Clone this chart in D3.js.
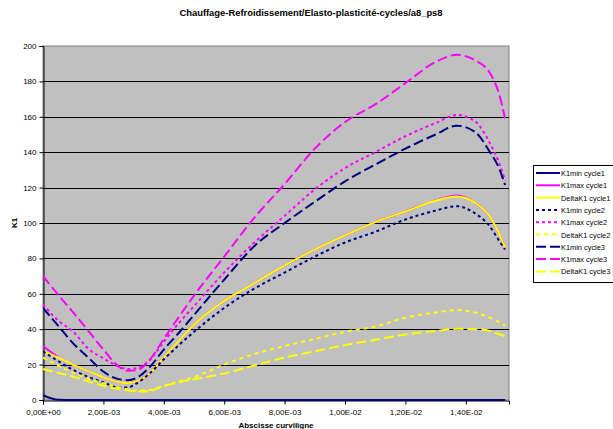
<!DOCTYPE html>
<html><head><meta charset="utf-8">
<script src="https://cdn.jsdelivr.net/npm/d3@7"></script>
<style>body{margin:0;background:#fff}svg{display:block;font-family:Arial,"Liberation Sans",sans-serif}</style>
</head><body><svg id="c" width="613" height="429"></svg>
<script>
const titleText = "Chauffage-Refroidissement/Elasto-plasticité-cycles/a8_ps8";
const xLabel = "Abscisse curviligne";
const yLabel = "K1";
const xTickValues = [0, 0.002, 0.004, 0.006, 0.008, 0.010, 0.012, 0.014];
const xTickLabels = ["0,00E+00","2,00E-03","4,00E-03","6,00E-03","8,00E-03","1,00E-02","1,20E-02","1,40E-02"];
const yTickValues = [0,20,40,60,80,100,120,140,160,180,200];

const xValues = [0,0.0005,0.001,0.0015,0.002,0.0025,0.0028,0.0031,0.0035,0.004,0.0045,0.005,0.006,0.007,0.008,0.009,0.010,0.011,0.012,0.013,0.0137,0.0143,0.0148,0.0151,0.0153];

const k1minCycle1 = [2.8,0.2,0,0,0,0,0,0,0,0,0,0,0,0,0,0,0,0,0,0,0,0,0,0,0];
const k1maxCycle1 = [30.5,24.3,19.8,16.3,12.8,10.2,9.5,10.5,14.5,24,33.5,42.5,56,66,76,85,93,100.5,106.5,112.8,115.6,111.6,103.7,94,86];
const deltaK1Cycle1 = [27.5,24,19.8,16.3,12.8,10.2,9.5,10.5,14.5,24,33.5,42.5,56,66,76,85,93,100.5,106.5,112.6,115,111.5,103.6,94,86];
const k1minCycle2 = [27.5,22,17,13,10,7,7,9.4,14.5,23,31,38.5,52,63,72,81,89,95,102,107,109.5,105.5,98,90,85];
const k1maxCycle2 = [54,45,38.6,29,23.5,19,17.5,18,22,33,43.5,53,72,89,104,119,131,140,149,156.5,161,157.5,145,134,124];
const deltaK1Cycle2 = [24,19.5,15.5,12,9.5,7.2,6,5.4,5.6,8,10.5,13,20,26,30.5,34.5,38.5,41.5,46.5,49.5,50.8,49.5,46.5,44,42];
const k1minCycle3 = [52,42,32,24,16,11.8,11.2,12.5,18,28.5,38,48,68,87,100,112,123.5,133,142,150,155,151.5,140,131,121.5];
const k1maxCycle3 = [70,59.5,49.5,39,28.5,19,16.5,16.8,22,34.5,47,59,81,103,122,142,157,167,179,191,195,192,184.6,173,159];
const deltaK1Cycle3 = [17.5,15.3,13.2,10.5,8,6.3,5.5,4.8,5,8,10,11.7,15,19.5,24,27.5,31,34,37,39,40.2,40,39,37.2,36];

const seriesNames = ["K1min cycle1","K1max cycle1","DeltaK1 cycle1","K1min cycle2","K1max cycle2","DeltaK1 cycle2","K1min cycle3","K1max cycle3","DeltaK1 cycle3"];
const seriesValues = [k1minCycle1,k1maxCycle1,deltaK1Cycle1,k1minCycle2,k1maxCycle2,deltaK1Cycle2,k1minCycle3,k1maxCycle3,deltaK1Cycle3];
const seriesColors = ["#000080","#FF00FF","#FFFF00","#000080","#FF00FF","#FFFF00","#000080","#FF00FF","#FFFF00"];
const seriesDash = [null,null,null,"3,3","3,3","4,4","10,4","10,4","10,4"];

const svg = d3.select("#c");
const L=43,R=509,T=46,B=400;
const x = d3.scaleLinear().domain([0,0.01543]).range([L,R]);
const y = d3.scaleLinear().domain([0,200]).range([B,T]);

svg.append("rect").attr("x",L).attr("y",T).attr("width",R-L).attr("height",B-T)
  .attr("fill","#C0C0C0").attr("stroke","#808080").attr("stroke-width",1);

// gridlines
svg.append("g").selectAll("line").data(yTickValues.filter(v=>v>0&&v<200)).join("line")
  .attr("x1",L).attr("x2",R).attr("y1",d=>Math.round(y(d))+0.5).attr("y2",d=>Math.round(y(d))+0.5)
  .attr("stroke","#000").attr("stroke-width",1);

// axes
const yAxis = d3.axisLeft(y).tickValues(yTickValues).tickSize(4).tickPadding(3);
const gy = svg.append("g").attr("transform",`translate(${L+0.5},0)`).call(yAxis);
const xAxis = d3.axisBottom(x).tickValues(xTickValues).tickFormat((d,i)=>xTickLabels[i]).tickSize(4).tickPadding(5);
const gx = svg.append("g").attr("transform",`translate(0,${B+0.5})`).call(xAxis);
[gx,gy].forEach(g=>{
  g.select(".domain").attr("stroke","#000");
  g.selectAll(".tick line").attr("stroke","#000");
  g.selectAll("text").attr("font-size","8px").attr("fill","#000").attr("font-family","Arial, Liberation Sans, sans-serif");
});

// lines
const line = d3.line().x((d,i)=>x(xValues[i])).y(d=>y(d)).curve(d3.curveMonotoneX);
svg.append("clipPath").attr("id","pc").append("rect").attr("x",L).attr("y",T-2).attr("width",R-L).attr("height",B-T+3);
const lg = svg.append("g").attr("clip-path","url(#pc)");
seriesValues.forEach((vals,i)=>{
  lg.append("path").datum(vals).attr("d",line).attr("fill","none")
    .attr("stroke",seriesColors[i]).attr("stroke-width",2)
    .attr("stroke-dasharray",seriesDash[i]);
});

// title and labels
svg.append("text").attr("x",311).attr("y",16).attr("text-anchor","middle")
  .attr("font-size","9.4px").attr("font-weight","bold").text(titleText);
svg.append("text").attr("x",276).attr("y",428).attr("text-anchor","middle")
  .attr("font-size","8px").attr("font-weight","bold").text(xLabel);
svg.append("text").attr("transform","translate(17,223) rotate(-90)").attr("text-anchor","middle")
  .attr("font-size","8px").attr("font-weight","bold").text(yLabel);

// legend
const leg = svg.append("g");
leg.append("rect").attr("x",533.5).attr("y",165.5).attr("width",90).attr("height",117)
  .attr("fill","#fff").attr("stroke","#000").attr("stroke-width",1);
seriesNames.forEach((n,i)=>{
  const yy = 173 + i*12.3;
  leg.append("line").attr("x1",536).attr("x2",560).attr("y1",yy).attr("y2",yy)
    .attr("stroke",seriesColors[i]).attr("stroke-width",2).attr("stroke-dasharray",seriesDash[i]);
  leg.append("text").attr("x",561).attr("y",yy+3).attr("font-size","7.4px").text(n);
});
</script></body></html>
